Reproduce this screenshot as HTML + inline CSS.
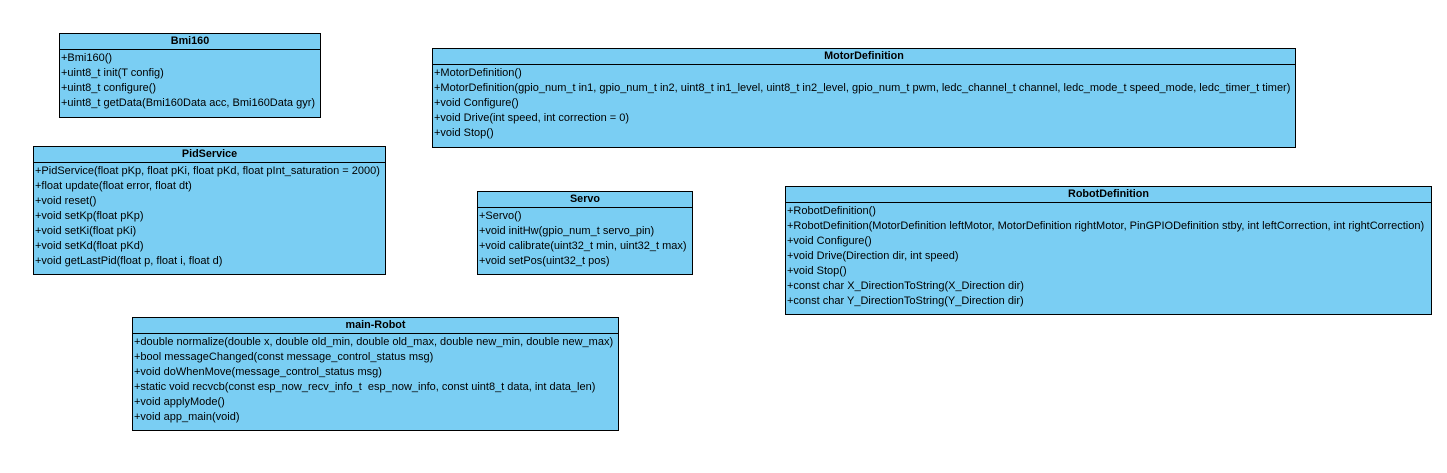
<!DOCTYPE html>
<html><head><meta charset="utf-8"><style>
html,body{margin:0;padding:0;background:#fff;width:1447px;height:473px;overflow:hidden}
.c{position:absolute;box-sizing:border-box;background:#7acef3;border:1px solid #000;font-family:"Liberation Sans",Arial,sans-serif;font-size:11px;color:#000}
.h{height:15px;line-height:15px;text-align:center;font-weight:bold;border-bottom:1px solid #000;font-size:10.8px}
.r{height:15px;line-height:15px;padding-left:1px;white-space:nowrap}
.b{padding-top:1px}
</style></head><body>
<div class="c" style="left:59px;top:33px;width:262px;height:85px">
<div class="h">Bmi160</div><div class="b">
<div class="r">+Bmi160()</div>
<div class="r">+uint8_t init(T config)</div>
<div class="r">+uint8_t configure()</div>
<div class="r">+uint8_t getData(Bmi160Data acc, Bmi160Data gyr)</div></div></div>

<div class="c" style="left:432px;top:48px;width:864px;height:100px">
<div class="h">MotorDefinition</div><div class="b">
<div class="r">+MotorDefinition()</div>
<div class="r">+MotorDefinition(gpio_num_t in1, gpio_num_t in2, uint8_t in1_level, uint8_t in2_level, gpio_num_t pwm, ledc_channel_t channel, ledc_mode_t speed_mode, ledc_timer_t timer)</div>
<div class="r">+void Configure()</div>
<div class="r">+void Drive(int speed, int correction = 0)</div>
<div class="r">+void Stop()</div></div></div>

<div class="c" style="left:33px;top:146px;width:353px;height:129px">
<div class="h">PidService</div><div class="b">
<div class="r">+PidService(float pKp, float pKi, float pKd, float pInt_saturation = 2000)</div>
<div class="r">+float update(float error, float dt)</div>
<div class="r">+void reset()</div>
<div class="r">+void setKp(float pKp)</div>
<div class="r">+void setKi(float pKi)</div>
<div class="r">+void setKd(float pKd)</div>
<div class="r">+void getLastPid(float p, float i, float d)</div></div></div>

<div class="c" style="left:477px;top:191px;width:216px;height:84px">
<div class="h">Servo</div><div class="b">
<div class="r">+Servo()</div>
<div class="r">+void initHw(gpio_num_t servo_pin)</div>
<div class="r">+void calibrate(uint32_t min, uint32_t max)</div>
<div class="r">+void setPos(uint32_t pos)</div></div></div>

<div class="c" style="left:785px;top:186px;width:647px;height:129px">
<div class="h">RobotDefinition</div><div class="b">
<div class="r">+RobotDefinition()</div>
<div class="r">+RobotDefinition(MotorDefinition leftMotor, MotorDefinition rightMotor, PinGPIODefinition stby, int leftCorrection, int rightCorrection)</div>
<div class="r">+void Configure()</div>
<div class="r">+void Drive(Direction dir, int speed)</div>
<div class="r">+void Stop()</div>
<div class="r">+const char X_DirectionToString(X_Direction dir)</div>
<div class="r">+const char Y_DirectionToString(Y_Direction dir)</div></div></div>

<div class="c" style="left:132px;top:317px;width:487px;height:114px">
<div class="h">main-Robot</div><div class="b">
<div class="r">+double normalize(double x, double old_min, double old_max, double new_min, double new_max)</div>
<div class="r">+bool messageChanged(const message_control_status msg)</div>
<div class="r">+void doWhenMove(message_control_status msg)</div>
<div class="r">+static void recvcb(const esp_now_recv_info_t &nbsp;esp_now_info, const uint8_t data, int data_len)</div>
<div class="r">+void applyMode()</div>
<div class="r">+void app_main(void)</div></div></div>
</body></html>
